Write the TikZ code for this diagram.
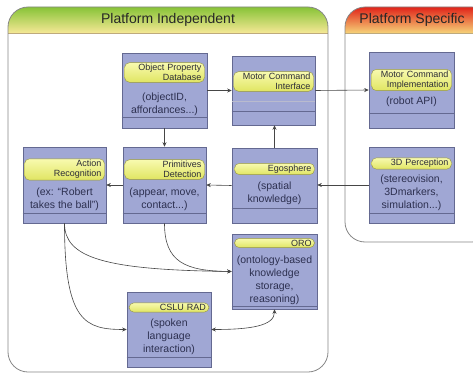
\documentclass[tikz,border=0pt]{standalone}
\usepackage{fontspec}
\setmainfont{Liberation Sans}
\usetikzlibrary{arrows.meta}
\definecolor{boxfill}{RGB}{160,167,212}
\definecolor{boxline}{RGB}{100,105,145}
\definecolor{lblhi}{RGB}{248,250,175}
\definecolor{lbllo}{RGB}{224,229,98}
\definecolor{lblline}{RGB}{150,150,65}
\definecolor{lbltext}{RGB}{45,45,55}
\definecolor{bodytext}{RGB}{45,48,80}
\definecolor{panelgray}{RGB}{135,135,135}
\definecolor{arrgray}{RGB}{70,70,70}
\definecolor{hdgreen}{RGB}{135,195,55}
\definecolor{hdyellow}{RGB}{246,232,150}
\definecolor{hdred}{RGB}{225,35,25}
\definecolor{hdorange}{RGB}{240,115,40}
\definecolor{hdpale}{RGB}{246,210,120}
\definecolor{hdline}{RGB}{190,170,125}

\begin{document}
\begin{tikzpicture}[x=1pt, y=-1pt,
	panel/.style={draw=panelgray, line width=0.8pt, rounded corners=20pt},
	hdr/.style={font=\fontsize{14}{16}\selectfont, text=black!85, inner sep=0pt},
	comp/.style={draw=boxline, fill=boxfill, line width=0.6pt, inner sep=0pt, minimum width=84pt, minimum height=75pt},
	lbl/.style={draw=lblline, top color=lblhi, bottom color=lbllo, rounded corners=5pt, text width=74pt, align=right, inner xsep=3pt, inner ysep=1.5pt, font=\fontsize{9}{10}\selectfont, text=lbltext},
	body/.style={align=center, font=\fontsize{10.5}{13}\selectfont, text=bodytext, inner sep=0pt},
	arr/.style={draw=arrgray, line width=0.6pt, -{Stealth[length=4.5pt, width=4pt]}},
	arrs/.style={draw=arrgray, line width=0.6pt, {Stealth[length=4.5pt, width=4pt]}-{Stealth[length=4.5pt, width=4pt]}},
	stripe/.style={draw=boxline, line width=0.6pt}]
	\useasboundingbox (0,0) rectangle (473,374);
	\clip (0,0) rectangle (473,374);
	% platform independent panel
	\begin{scope}
		\clip[rounded corners=20pt] (8,7) rectangle (328,372);
		\fill[white] (8,7) rectangle (328,372);
		\shade[top color=hdgreen, bottom color=hdyellow] (8,7) rectangle (328,33);
	\end{scope}
	\draw[hdline, line width=0.8pt] (8,33) -- (328,33);
	\draw[panel] (8,7) rectangle (328,372);
	\node[hdr] (pi-t) at (168,20) {Platform Independent};
	% platform specific panel
	\begin{scope}
		\clip[rounded corners=20pt] (345,7) rectangle (492,242);
		\fill[white] (345,7) rectangle (492,242);
		\shade[top color=hdred, middle color=hdorange, bottom color=hdpale] (345,7) rectangle (492,33);
	\end{scope}
	\draw[hdline, line width=0.8pt] (345,33) -- (492,33);
	\draw[panel] (345,7) rectangle (492,242);
	\node[hdr] (ps-t) at (412,20) {Platform Specific};
	% components
	\node[comp, minimum width=85pt] (opdb) at (164.5,90.5) {};
	\node[lbl] (opdb-l) at (164.5,72.5) {Object Property\\Database};
	\node[body] (opdb-b) at (164.5,104) {(objectID,\\affordances...)};
	\node[comp, minimum width=83pt, minimum height=69pt] (mci) at (273.5,90.5) {};
	\node[lbl] (mci-l) at (273.5,81.5) {Motor Command\\Interface};
	\node[comp, minimum width=85pt, minimum height=76pt] (mcimpl) at (411.5,90) {};
	\node[lbl] (mcimpl-l) at (411.5,80) {Motor Command\\Implementation};
	\node[body] (mcimpl-b) at (411.5,101.5) {(robot API)};
	\node[comp, minimum width=85pt, minimum height=76pt] (perc) at (411.5,185) {};
	\node[lbl] (perc-l) at (411.5,163.5) {3D Perception};
	\node[body] (perc-b) at (411.5,193) {(stereovision,\\3Dmarkers,\\simulation...)};
	\node[comp, minimum width=85pt] (ego) at (274.5,185.5) {};
	\node[lbl] (ego-l) at (274.5,169) {Egosphere};
	\node[body] (ego-b) at (274.5,193.5) {(spatial\\knowledge)};
	\node[comp, minimum width=83pt, minimum height=76pt] (prim) at (164.5,185) {};
	\node[lbl] (prim-l) at (164.5,169.5) {Primitives\\Detection};
	\node[body] (prim-b) at (164.5,199) {(appear, move,\\contact...)};
	\node[comp, minimum width=83pt, minimum height=76pt] (act) at (64.5,185) {};
	\node[lbl] (act-l) at (64.5,169.5) {Action\\Recognition};
	\node[body] (act-b) at (64.5,199) {(ex: “Robert\\takes the ball”)};
	\node[comp, minimum width=85pt] (oro) at (274.5,271.5) {};
	\node[lbl] (oro-l) at (274.5,243) {ORO};
	\node[body] (oro-b) at (274.5,280) {(ontology-based\\knowledge\\storage,\\reasoning)};
	\node[comp] (cslu) at (169,329.5) {};
	\node[lbl] (cslu-l) at (169,307.5) {CSLU RAD};
	\node[body] (cslu-b) at (169,336.5) {(spoken\\language\\interaction)};
	\foreach \n/\s in {opdb/11, mci/14, mcimpl/15, perc/10, ego/15, prim/10, act/10, oro/3, cslu/10}
		\draw[stripe] ([yshift=\s pt]\n.south west) -- ([yshift=\s pt]\n.south east);
	\draw[stripe, boxline!45] ([yshift=24pt]mci.south west) -- ([yshift=24pt]mci.south east);
	% connectors
	\draw[arr] (opdb.east) -- (mci.west);
	\draw[arr] (mci.east) -- (mcimpl.west);
	\draw[arr] (opdb.south) -- (prim.north);
	\draw[arr] (ego.north) -- (ego.north |- mci.south);
	\draw[arr] (perc.west) -- (perc.west -| ego.east);
	\draw[arr] (ego.west) -- (prim.east);
	\draw[arr] (prim.west) -- (act.east);
	\draw[arr] (act.south) .. controls (64.5,258) and (105,270) .. (oro.west);
	\draw[arr] (prim.south) .. controls (164.5,262) and (185,271) .. (oro.west);
	\draw[arr] (act.south) .. controls (64.5,322) and (85,329.5) .. (cslu.west);
	\draw[arrs] (oro.south) .. controls (274.5,326) and (250,329.5) .. (cslu.east);
\end{tikzpicture}
\end{document}
